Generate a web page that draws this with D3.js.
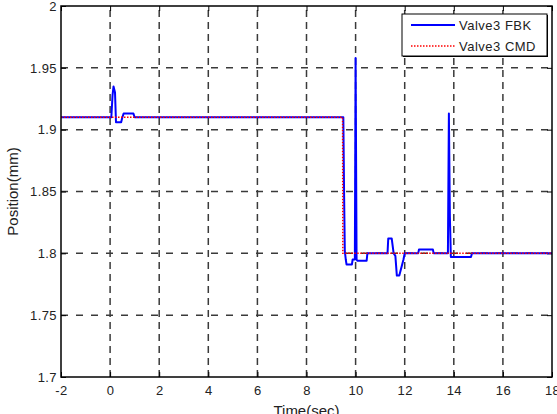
<!DOCTYPE html>
<html>
<head>
<meta charset="utf-8">
<script src="https://cdn.jsdelivr.net/npm/d3@7"></script>
<style>
  html, body { margin: 0; padding: 0; background: #fff; overflow: hidden; }
  svg { display: block; }
  text { font-family: "Liberation Sans", Arial, sans-serif; }
</style>
</head>
<body>
<svg id="chart" width="557" height="414"></svg>
<script>
// ---- data ----
const xTicks = [-2, 0, 2, 4, 6, 8, 10, 12, 14, 16, 18];
const xTickLabels = ["-2", "0", "2", "4", "6", "8", "10", "12", "14", "16", "18"];
const yTicks = [1.7, 1.75, 1.8, 1.85, 1.9, 1.95, 2];
const yTickLabels = ["1.7", "1.75", "1.8", "1.85", "1.9", "1.95", "2"];
const seriesNames = ["Valve3 FBK", "Valve3 CMD"];
const fbkTime = [-2, 0.05, 0.1, 0.14, 0.2, 0.24, 0.45, 0.5, 0.55, 0.95, 1.0, 9.5, 9.53, 9.56, 9.6, 9.63, 9.85, 9.88, 9.97, 10.0, 10.04, 10.08, 10.45, 10.48, 11.3, 11.33, 11.47, 11.55, 11.62, 11.68, 11.78, 11.95, 12.0, 12.55, 12.58, 13.15, 13.18, 13.76, 13.8, 13.84, 13.88, 13.92, 14.7, 14.74, 18];
const fbkValue = [1.91, 1.91, 1.928, 1.935, 1.93, 1.906, 1.906, 1.91, 1.913, 1.913, 1.91, 1.91, 1.85, 1.802, 1.795, 1.791, 1.791, 1.795, 1.795, 1.958, 1.795, 1.794, 1.794, 1.8, 1.8, 1.812, 1.812, 1.8, 1.798, 1.782, 1.782, 1.795, 1.8, 1.8, 1.803, 1.803, 1.8, 1.8, 1.913, 1.83, 1.797, 1.797, 1.797, 1.8, 1.8];
const cmdTime = [-2, 9.47, 9.48, 18];
const cmdValue = [1.91, 1.91, 1.8, 1.8];

// ---- layout ----
const W = 557, H = 414;
const margin = { left: 61, right: 5, top: 6, bottom: 37 };
const svg = d3.select("#chart");
const x = d3.scaleLinear().domain([-2, 18]).range([margin.left, W - margin.right]);
const y = d3.scaleLinear().domain([1.7, 2]).range([H - margin.bottom, margin.top]);

const x0 = x(-2), x1 = x(18), y0 = y(1.7), y1 = y(2);
const FONT = '"Liberation Sans", Arial, sans-serif';

// grid
const grid = svg.append("g");
grid.selectAll("line.vg").data(xTicks.slice(1, -1)).enter().append("line")
  .attr("x1", d => x(d)).attr("x2", d => x(d)).attr("y1", y0).attr("y2", y1)
  .attr("stroke", "#3a3a3a").attr("stroke-width", 1.5).attr("stroke-dasharray", "7,5");
grid.selectAll("line.hg").data(yTicks.slice(1, -1)).enter().append("line")
  .attr("x1", x0).attr("x2", x1).attr("y1", d => y(d)).attr("y2", d => y(d))
  .attr("stroke", "#3a3a3a").attr("stroke-width", 1.5).attr("stroke-dasharray", "7,8");

// axes (MATLAB style inner ticks)
const xAxis = d3.axisBottom(x).tickValues(xTicks).tickSize(-5).tickPadding(9).tickFormat((d, i) => xTickLabels[i]);
const yAxis = d3.axisLeft(y).tickValues(yTicks).tickSize(-5).tickPadding(4).tickFormat((d, i) => yTickLabels[i]);
const gx = svg.append("g").attr("transform", `translate(0,${y0})`).call(xAxis);
const gy = svg.append("g").attr("transform", `translate(${x0},0)`).call(yAxis);
[gx, gy].forEach(g => {
  g.select(".domain").remove();
  g.selectAll("line").attr("stroke", "#000").attr("stroke-width", 1);
  g.selectAll("text").attr("fill", "#222").style("font-size", "13px")
    .style("font-family", FONT).style("letter-spacing", "0.4px");
});
// top and right ticks
const gxt = svg.append("g").attr("transform", `translate(0,${y1})`).call(d3.axisTop(x).tickValues(xTicks).tickSize(-5).tickFormat(""));
const gyr = svg.append("g").attr("transform", `translate(${x1},0)`).call(d3.axisRight(y).tickValues(yTicks).tickSize(-5).tickFormat(""));
[gxt, gyr].forEach(g => { g.select(".domain").remove(); g.selectAll("line").attr("stroke", "#000"); });

// lines
const line = d3.line().x(d => x(d[0])).y(d => y(d[1]));
const fbk = fbkTime.map((t, i) => [t, fbkValue[i]]);
const cmd = cmdTime.map((t, i) => [t, cmdValue[i]]);
svg.append("path").datum(fbk).attr("d", line).attr("fill", "none")
  .attr("stroke", "#0000ff").attr("stroke-width", 2).attr("stroke-linejoin", "round");
svg.append("path").datum(cmd).attr("d", line).attr("fill", "none")
  .attr("stroke", "#ff0000").attr("stroke-width", 1.5).attr("stroke-dasharray", "1.5,1.5");

// box
svg.append("rect").attr("x", x0).attr("y", y1).attr("width", x1 - x0).attr("height", y0 - y1)
  .attr("fill", "none").attr("stroke", "#000").attr("stroke-width", 1.5);

// legend
const lg = svg.append("g");
const lx = 402, ly = 14, lw = 145, lh = 42;
lg.append("rect").attr("x", lx + 1).attr("y", ly + 1).attr("width", lw).attr("height", lh).attr("fill", "#000");
lg.append("rect").attr("x", lx).attr("y", ly).attr("width", lw).attr("height", lh)
  .attr("fill", "#fff").attr("stroke", "#000").attr("stroke-width", 1);
const rows = [{ c: "#0000ff", dash: null, w: 2 }, { c: "#ff0000", dash: "1.5,1.5", w: 1.5 }];
rows.forEach((r, i) => {
  const yy = ly + 11 + i * 21;
  lg.append("line").attr("x1", lx + 9).attr("x2", lx + 53).attr("y1", yy).attr("y2", yy)
    .attr("stroke", r.c).attr("stroke-width", r.w).attr("stroke-dasharray", r.dash);
  lg.append("text").attr("x", lx + 57).attr("y", yy + 4.5).text(seriesNames[i])
    .style("font-size", "13px").style("letter-spacing", "0.5px").attr("fill", "#222");
});

// axis labels
svg.append("text").attr("x", (x0 + x1) / 2).attr("y", 416).attr("text-anchor", "middle")
  .style("font-size", "15px").attr("fill", "#222").text("Time(sec)");
svg.append("text").attr("transform", `translate(18,${(y0 + y1) / 2}) rotate(-90)`)
  .attr("text-anchor", "middle").style("font-size", "15px").attr("fill", "#222").text("Position(mm)");
</script>
</body>
</html>
